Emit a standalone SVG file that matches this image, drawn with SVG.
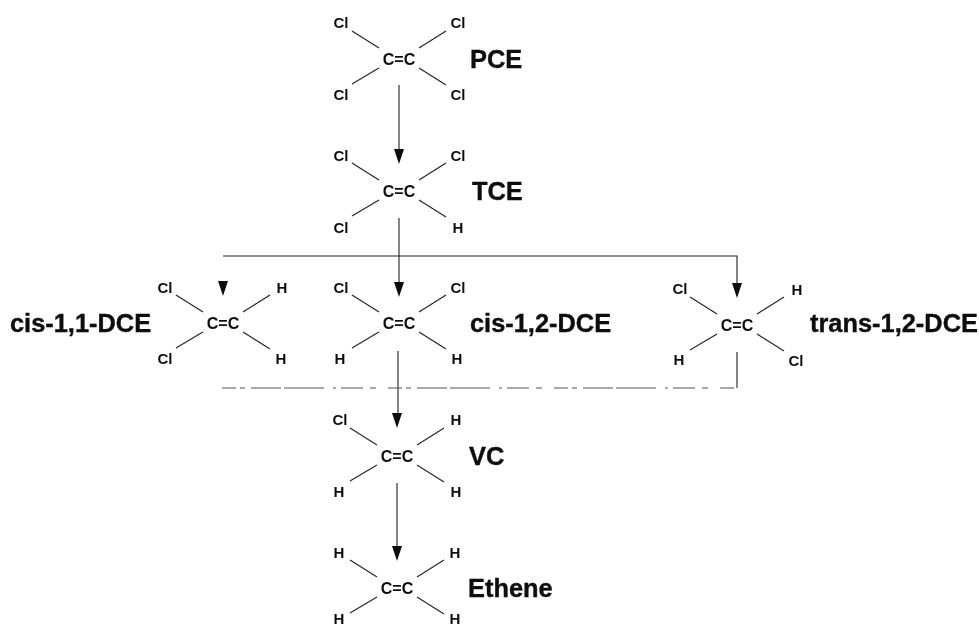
<svg xmlns="http://www.w3.org/2000/svg" width="979" height="627" viewBox="0 0 979 627">
<style>
text{font-family:"Liberation Sans",Arial,sans-serif;fill:#111;text-anchor:middle}
.a{font-size:15px;font-weight:bold}
.f{font-size:16px;font-weight:bold}
.n{font-size:25.4px;font-weight:bold;text-anchor:start;stroke:#111;stroke-width:0.4}
.b{stroke:#222;stroke-width:1.1;fill:none}
.c{stroke:#222;stroke-width:1.1;fill:none}
.d{stroke:#555;stroke-width:1.1;fill:none;stroke-dasharray:14 4 5 6 30 3 40 9 3 5 22 7 6 12}
.h{fill:#111}
</style>
<defs>
<filter id="s" x="-2%" y="-2%" width="104%" height="104%"><feGaussianBlur stdDeviation="0.45"/></filter>
<path id="bonds" class="b" d="M-47-28L-20-11M47-28L20-11M-47 25L-20 9M47 26L20 9"/>
<polygon id="head" class="h" points="-5,-15 5,-15 0,0"/>
</defs>
<g filter="url(#s)">
<g id="connectors">
<path class="c" d="M399 85V150"/><use href="#head" x="399" y="164"/>
<path class="c" d="M399 218V282"/><use href="#head" x="399" y="297"/>
<path class="c" d="M223 256H737V283"/><use href="#head" x="737" y="298"/>
<use href="#head" x="223" y="296"/>
<path class="c" d="M398 351V415"/><use href="#head" x="397" y="428"/>
<path class="d" d="M222 388H737"/>
<path class="c" d="M737 352V388"/>
<path class="c" d="M397 483V546"/><use href="#head" x="397" y="561"/>
</g>
<g id="pce"><use href="#bonds" x="399" y="59"/><text class="f" x="399" y="65">C=C</text>
<text class="a" x="341" y="28">Cl</text><text class="a" x="458" y="28">Cl</text><text class="a" x="341" y="100">Cl</text><text class="a" x="458" y="100">Cl</text><text class="n" x="470" y="68">PCE</text></g>
<g id="tce"><use href="#bonds" x="399" y="191"/><text class="f" x="399" y="197">C=C</text>
<text class="a" x="341" y="161">Cl</text><text class="a" x="458" y="161">Cl</text><text class="a" x="341" y="233">Cl</text><text class="a" x="458" y="233">H</text><text class="n" x="472" y="200">TCE</text></g>
<g id="cis11"><use href="#bonds" x="223" y="323"/><text class="f" x="223" y="329">C=C</text>
<text class="a" x="165" y="293">Cl</text><text class="a" x="282" y="293">H</text><text class="a" x="165" y="364">Cl</text><text class="a" x="281" y="364">H</text><text class="n" x="10" y="332">cis-1,1-DCE</text></g>
<g id="cis12"><use href="#bonds" x="399" y="323"/><text class="f" x="399" y="329">C=C</text>
<text class="a" x="341" y="293">Cl</text><text class="a" x="458" y="293">Cl</text><text class="a" x="340" y="364">H</text><text class="a" x="457" y="364">H</text><text class="n" x="470" y="332">cis-1,2-DCE</text></g>
<g id="trans12"><use href="#bonds" x="737" y="325"/><text class="f" x="737" y="331">C=C</text>
<text class="a" x="680" y="294">Cl</text><text class="a" x="797" y="295">H</text><text class="a" x="679" y="365">H</text><text class="a" x="796" y="366">Cl</text><text class="n" x="810" y="332">trans-1,2-DCE</text></g>
<g id="vc"><use href="#bonds" x="397" y="456"/><text class="f" x="397" y="462">C=C</text>
<text class="a" x="340" y="425">Cl</text><text class="a" x="456" y="425">H</text><text class="a" x="339" y="497">H</text><text class="a" x="456" y="497">H</text><text class="n" x="469" y="465">VC</text></g>
<g id="ethene"><use href="#bonds" x="397" y="588"/><text class="f" x="397" y="594">C=C</text>
<text class="a" x="339" y="558">H</text><text class="a" x="455" y="558">H</text><text class="a" x="339" y="623.5">H</text><text class="a" x="455" y="623.5">H</text><text class="n" x="468" y="597">Ethene</text></g>
</g>
</svg>
